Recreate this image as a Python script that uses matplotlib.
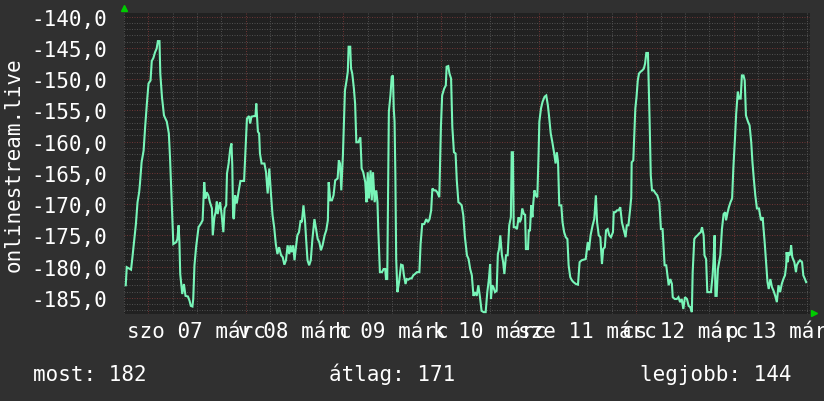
import numpy as np
import matplotlib
matplotlib.use("Agg")
import matplotlib.pyplot as plt

# ---- data: hours since 2026-03-06 18:00, values ----
h1 = [0.5, 0.75, 1.8, 2.1, 2.6, 3.0, 3.4, 3.8, 4.0, 4.4, 4.9, 5.3, 5.7, 6.1, 6.6, 6.9, 7.3, 7.7, 8.1, 8.4,
      8.8, 9.0, 9.4, 9.9, 10.6, 11.1, 11.4, 11.8, 12.2, 12.9, 13.2, 13.5, 13.7, 13.9, 14.4, 14.8, 15.2, 15.8,
      16.2, 16.5, 16.9, 17.1, 17.4, 17.8, 18.4, 18.9, 19.4, 19.8, 20.1, 20.4, 20.8, 21.2, 21.7, 21.9, 22.3,
      22.6, 22.9, 23.1, 23.5, 23.7, 24.1, 24.5, 24.8, 25.2, 25.4, 25.8, 26.2, 26.5, 26.7, 26.9, 27.1, 27.4,
      27.8, 28.3, 28.7, 29.6, 30.0, 30.3, 30.8, 31.1, 31.4, 32.1, 32.4, 32.6]
v1 = [-183.0, -180.1, -180.5, -178.8, -175.6, -173.2, -169.7, -168.1, -166.7, -163.3, -161.4, -157.4, -153.9,
      -150.7, -150.2, -147.1, -146.6, -145.7, -145.1, -143.9, -143.9, -149.1, -152.8, -155.8, -156.8, -158.7,
      -162.7, -169.4, -176.4, -176.1, -175.6, -173.4, -176.1, -181.2, -184.4, -182.8, -184.7, -184.8, -185.5,
      -186.3, -186.4, -185.2, -179.8, -176.9, -173.7, -173.2, -172.6, -166.5, -169.1, -168.1, -168.6, -169.7,
      -170.7, -175.0, -172.1, -171.3, -169.6, -171.6, -170.2, -169.7, -171.8, -174.5, -170.7, -170.2, -165.1,
      -163.5, -161.1, -160.3, -163.8, -172.1, -172.4, -168.6, -169.9, -167.8, -166.3, -166.3, -160.6, -156.3,
      -155.9, -157.1, -156.0, -155.9, -155.9, -153.9]

h2 = [33.0, 33.3, 33.5, 33.9, 34.6, 35.0, 35.4, 35.8, 36.2, 36.6, 37.0, 37.4, 37.8, 38.2, 38.7, 39.1, 39.5,
      39.9, 40.3, 40.7, 41.0, 41.3, 41.7, 42.0, 42.3, 42.7, 43.1, 43.5, 43.8, 44.2, 44.6, 44.9, 45.2, 45.6,
      46.0, 46.4, 46.9, 47.3, 47.7, 48.1, 48.5, 48.9, 49.4, 49.8, 50.2, 50.4, 50.8, 51.2, 51.6, 52.0, 52.6,
      52.9, 53.2, 53.5, 53.9, 54.1, 54.4, 54.8, 55.1, 55.3, 55.7, 55.9, 56.2, 56.6, 56.9, 57.2, 57.7, 58.2,
      58.5, 58.9, 59.4, 59.7, 60.0, 60.3, 60.7, 61.0, 61.3, 61.7, 62.1, 62.4, 62.6, 63.0, 63.5, 63.9, 64.3,
      64.5, 64.8]
v2 = [-158.4, -158.7, -161.9, -163.5, -163.5, -164.9, -168.3, -164.3, -168.3, -171.8, -173.7, -176.4, -178.0,
      -176.9, -178.2, -178.5, -179.7, -179.0, -176.6, -178.0, -176.6, -177.7, -176.6, -179.0, -177.2, -175.0,
      -174.5, -172.6, -172.9, -170.2, -172.9, -176.1, -179.0, -179.8, -179.0, -175.6, -172.4, -174.0, -175.6,
      -176.1, -177.4, -176.6, -175.0, -174.2, -172.6, -166.5, -169.4, -169.4, -168.6, -166.2, -165.9, -163.0,
      -163.5, -167.8, -162.2, -158.2, -151.8, -150.2, -148.8, -144.8, -144.8, -148.3, -149.1, -151.5, -153.9,
      -160.1, -160.1, -159.3, -164.3, -164.9, -166.5, -169.7, -164.9, -169.1, -164.6, -169.4, -164.9, -169.7,
      -167.8, -169.7, -174.2, -180.9, -180.9, -180.4, -180.4, -182.0, -182.0]

h3 = [65.0, 65.2, 65.6, 65.9, 66.2, 66.4, 66.6, 66.8, 67.0, 67.3, 67.7, 68.2, 68.6, 68.9, 69.3, 69.6, 70.0,
      70.4, 70.8, 71.2, 71.6, 72.1, 72.7, 73.0, 73.4, 73.9, 74.4, 74.8, 75.2, 75.6, 75.9, 76.3, 76.7, 77.1,
      77.6, 78.0, 78.3, 78.8, 79.2, 79.4, 79.8, 80.1, 80.5, 80.8, 81.2, 81.6, 81.9, 82.3, 82.7, 83.1, 83.5,
      83.9, 84.4, 84.8, 85.2, 85.6, 86.0, 86.4, 86.8, 87.2, 87.6, 88.0, 88.5, 89.0, 89.4, 89.8, 90.1, 90.3,
      90.6, 90.9, 91.3, 91.7, 92.0, 92.3, 92.6, 93.0, 93.3, 93.6, 94.0, 94.4, 94.8, 95.2, 95.4, 95.7, 95.9,
      96.3, 96.7, 97.1, 97.4, 97.7, 98.0, 98.4, 98.7]
v3 = [-168.1, -155.2, -152.5, -149.6, -149.4, -154.7, -156.8, -165.4, -178.8, -184.1, -182.5, -179.7, -179.8,
      -181.4, -182.8, -182.0, -182.1, -181.9, -181.9, -181.4, -181.2, -180.9, -180.9, -176.4, -173.2, -173.2,
      -172.4, -172.9, -172.4, -171.0, -167.5, -167.8, -167.8, -168.1, -168.9, -157.6, -152.6, -151.5, -151.0,
      -148.0, -147.9, -149.1, -149.9, -157.6, -161.7, -161.9, -166.2, -169.7, -169.9, -170.2, -171.8, -175.3,
      -178.2, -178.8, -180.4, -181.4, -184.7, -184.1, -184.7, -183.0, -184.9, -187.1, -187.3, -187.3, -184.1,
      -182.0, -179.6, -185.2, -183.0, -183.3, -184.1, -183.9, -178.0, -177.2, -175.0, -178.2, -179.3, -181.2,
      -178.2, -178.2, -173.4, -172.1, -161.7, -161.7, -173.7, -173.7, -174.0, -172.1, -172.9, -172.4, -170.7,
      -171.6, -171.7]

h4 = [98.9, 99.4, 99.6, 99.9, 100.2, 100.5, 100.7, 101.0, 101.3, 101.7, 102.0, 102.2, 102.6, 103.0, 103.5,
      103.9, 104.3, 104.6, 105.0, 105.4, 105.8, 106.2, 106.5, 106.8, 107.1, 107.6, 107.9, 108.3, 108.7, 109.1,
      109.4, 109.8, 110.2, 110.6, 111.2, 111.7, 112.1, 112.6, 113.1, 113.6, 114.1, 114.4, 114.8, 115.3, 115.7,
      116.1, 116.4, 116.8, 117.2, 117.6, 117.9, 118.3, 118.6, 119.0, 119.4, 119.8, 120.3, 120.5, 120.9, 121.3,
      121.7, 122.1, 122.5, 122.9, 123.4, 123.7, 124.1, 124.5, 124.8, 124.9, 125.3, 125.5, 125.8, 126.1, 126.4,
      126.7, 127.1, 127.5, 127.9, 128.2, 128.5, 128.9, 129.0, 129.3, 129.6, 129.9, 130.3, 130.8, 131.2, 131.7,
      132.1, 132.5]
v4 = [-177.2, -177.2, -174.2, -174.2, -170.2, -172.1, -169.9, -167.8, -168.6, -168.9, -162.2, -156.8, -154.7,
      -153.6, -152.8, -152.6, -154.2, -156.0, -158.7, -160.1, -161.7, -163.5, -161.7, -163.3, -170.2, -170.2,
      -172.9, -174.5, -175.3, -175.6, -179.8, -181.7, -182.2, -182.5, -182.8, -182.9, -179.3, -179.0, -178.9,
      -178.8, -176.1, -177.4, -175.0, -173.4, -172.4, -168.6, -172.9, -175.0, -175.3, -179.6, -177.2, -176.9,
      -174.2, -174.0, -175.0, -175.3, -174.5, -171.3, -171.3, -171.0, -171.0, -170.5, -172.9, -174.0, -175.3,
      -173.4, -173.4, -171.0, -168.9, -163.3, -163.0, -159.8, -154.7, -152.8, -150.2, -149.1, -148.8, -148.6,
      -148.3, -147.5, -145.8, -145.8, -148.3, -156.3, -165.4, -167.8, -167.8, -168.3, -168.6, -169.7, -174.0,
      -174.0]

h5 = [133.0, 133.4, 133.7, 134.0, 134.4, 134.8, 135.0, 135.5, 136.0, 136.4, 136.8, 137.2, 137.6, 138.0, 138.5,
      138.9, 139.3, 139.7, 139.9, 140.3, 140.6, 141.1, 141.5, 141.9, 142.2, 142.6, 142.8, 143.2, 143.5, 144.0,
      144.4, 144.8, 145.0, 145.3, 145.5, 145.8, 146.1, 146.4, 146.7, 147.1, 147.5, 147.9, 148.1, 148.5, 148.8,
      149.2, 149.6, 149.9, 150.3, 150.6, 151.0, 151.3, 151.7, 152.0, 152.4, 152.7, 153.0, 153.5, 153.9, 154.3,
      154.6, 154.9, 155.3, 155.7, 156.2, 156.7, 157.1, 157.6, 158.0, 158.3, 158.6, 159.0, 159.4, 159.8, 160.2,
      160.6, 161.0, 161.4, 161.8, 162.2, 162.6, 162.9, 163.0, 163.3, 163.5, 163.9, 164.1, 164.4, 164.9, 165.3,
      165.5, 165.9, 166.3, 166.8, 167.1, 167.5, 167.8]
v5 = [-179.8, -179.8, -181.4, -183.0, -182.0, -182.8, -184.9, -185.2, -185.2, -184.9, -185.7, -185.2, -186.8,
      -184.9, -185.2, -186.3, -186.5, -187.3, -180.9, -175.6, -175.3, -175.0, -174.7, -174.5, -173.7, -175.0,
      -178.2, -178.8, -184.1, -184.1, -184.1, -181.4, -179.3, -175.0, -184.7, -184.7, -180.4, -179.3, -178.2,
      -174.0, -171.6, -171.3, -172.6, -171.3, -170.5, -169.7, -169.1, -164.3, -159.5, -155.5, -152.0, -153.1,
      -153.1, -149.4, -149.4, -150.2, -155.8, -156.8, -157.4, -160.1, -163.3, -165.7, -168.6, -170.7, -170.7,
      -172.6, -172.1, -176.1, -179.8, -182.5, -183.6, -182.0, -183.3, -183.9, -184.7, -185.7, -183.0, -184.1,
      -182.8, -182.0, -181.4, -179.8, -177.7, -179.3, -177.7, -178.2, -176.6, -178.5, -179.3, -180.9, -179.8,
      -179.3, -179.0, -179.3, -181.4, -182.0, -182.5]

day_labels = ["szo 07 márc", "v 08 márc", "h 09 márc", "k 10 márc",
              "sze 11 márc", "cs 12 márc", "p 13 márc"]
y_ticks = [-185, -180, -175, -170, -165, -160, -155, -150, -145, -140]
y_label = "onlinestream.live"
legend_items = ["most: 182", "átlag: 171", "legjobb: 144"]

hours = np.concatenate([h1, h2, h3, h4, h5])
values = np.concatenate([v1, v2, v3, v4, v5])

# ---- style ----
W, H = 824, 402
BG = "#303030"
PLOT_BG = "#212121"
GRID = "#4e4e4e"
MAJOR = "#6a3434"
LINE = "#78f5b8"
FONT = "DejaVu Sans Mono"
FS = 15

plt.rcParams["font.family"] = [FONT]

fig = plt.figure(figsize=(W / 100, H / 100), dpi=100, facecolor=BG)
ax = fig.add_axes([123.7 / W, (H - 315) / H, (810 - 123.7) / W, 301 / H])
ax.set_facecolor(PLOT_BG)
ax.set_xlim(0, 168.75)
ax.set_ylim(-187.6, -139.4)

dots = (0, (1, 1.5))
for v in range(-187, -139):
    ax.axhline(v, color=MAJOR if v % 5 == 0 else GRID, lw=0.72, ls=dots, zorder=1, snap=True)
for hh in range(0, 169, 6):
    ax.axvline(hh, color=MAJOR if (hh - 6) % 24 == 0 else GRID, lw=0.72, ls=dots, zorder=1, snap=True)

ax.plot(hours, values, color=LINE, lw=1.5, zorder=3, solid_joinstyle="miter")

ax.set_yticks(y_ticks, labels=[f"{t:.1f}".replace(".", ",") for t in y_ticks])
ax.set_xticks([18 + 24 * i for i in range(len(day_labels))], labels=day_labels)
ax.tick_params(axis="both", length=0, colors="white", labelsize=FS)
ax.tick_params(axis="y", pad=11.7)
ax.tick_params(axis="x", pad=16.5)
for lab in ax.get_xticklabels():
    lab.set_va("baseline")

for s in ax.spines.values():
    s.set_visible(False)

ax.plot([0], [1.015], marker="^", ms=5, color="#00cc00", transform=ax.transAxes, clip_on=False, zorder=5)
ax.plot([1.006], [0.002], marker=">", ms=5, color="#00cc00", transform=ax.transAxes, clip_on=False, zorder=5)

fig.text(14 / W, 1 - 164.5 / H, y_label, rotation=90, ha="center", va="center",
         color="white", fontsize=FS)

fig.text(33 / W, 21 / H, legend_items[0], ha="left", va="baseline", color="white", fontsize=FS)
fig.text(392.5 / W, 21 / H, legend_items[1], ha="center", va="baseline", color="white", fontsize=FS)
fig.text(792 / W, 21 / H, legend_items[2], ha="right", va="baseline", color="white", fontsize=FS)

fig.savefig("out.png", dpi=100, facecolor=BG)
